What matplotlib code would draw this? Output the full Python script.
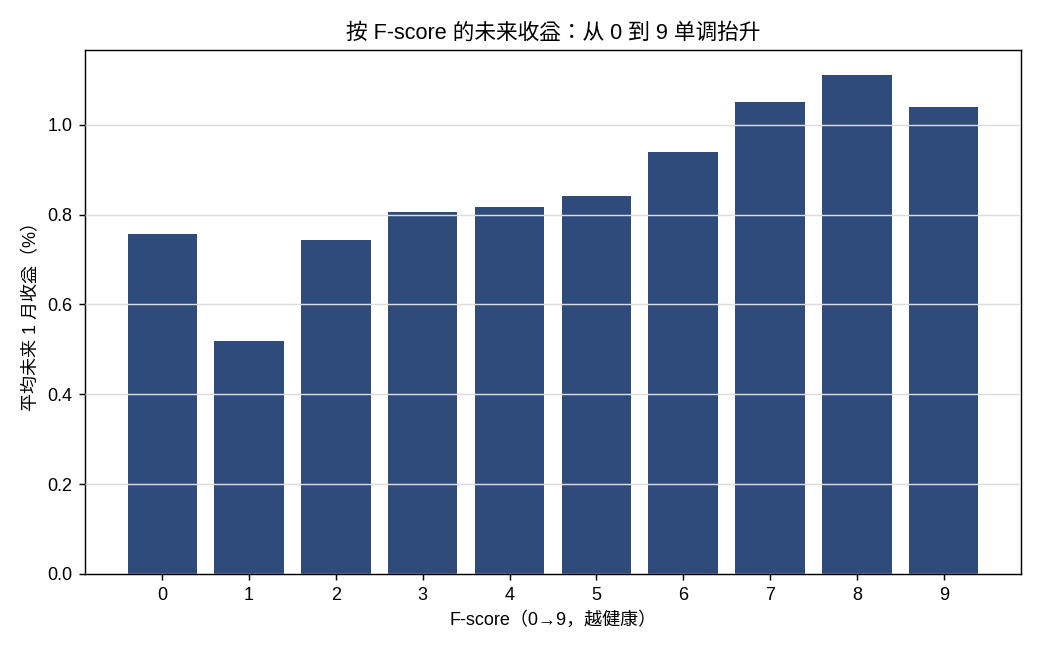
import matplotlib
matplotlib.use("Agg")
import matplotlib.pyplot as plt

plt.rcParams['font.family'] = ['Liberation Sans', 'Noto Sans CJK KR', 'DejaVu Sans']
plt.rcParams['axes.unicode_minus'] = False

scores = [0, 1, 2, 3, 4, 5, 6, 7, 8, 9]
returns = [0.757, 0.519, 0.744, 0.806, 0.817, 0.842, 0.940, 1.051, 1.111, 1.040]

fig, ax = plt.subplots(figsize=(8, 5), dpi=130)
ax.bar(scores, returns, width=0.8, color='#2f4b7c', zorder=2)
ax.set_xticks(scores)
ax.set_xticklabels([str(s) for s in scores])
ax.grid(axis='y', color='#dcdcdc', linewidth=0.8, zorder=3)
ax.set_axisbelow(False)
ax.set_title('按 F-score 的未来收益：从 0 到 9 单调抬升', fontsize=12)
ax.set_xlabel('F-score（0→9，越健康）', fontsize=10)
ax.set_ylabel('平均未来 1 月收益（%）', fontsize=10)
ax.tick_params(labelsize=10)
fig.subplots_adjust(left=0.0817, right=0.9817, top=0.923, bottom=0.117)
fig.savefig('out.png', dpi=130)
